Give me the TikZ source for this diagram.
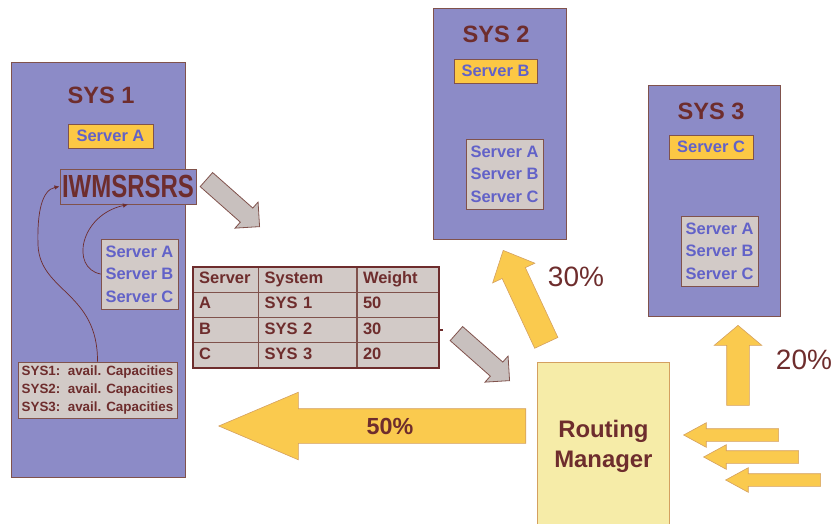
\documentclass[tikz,border=0pt]{standalone}
\usepackage{fontspec}
\setmainfont{Liberation Sans}
\usepackage{graphicx}
\usetikzlibrary{arrows.meta,matrix,positioning,shapes.arrows}
\definecolor{SYSfill}{RGB}{140,139,199}
\definecolor{SYSedge}{RGB}{128,82,76}
\definecolor{SRVyellow}{RGB}{252,200,68}
\definecolor{SRVblue}{RGB}{98,98,200}
\definecolor{BOXgrey}{RGB}{210,202,199}
\definecolor{TXTbrown}{RGB}{110,45,45}
\definecolor{ARRyellow}{RGB}{250,202,78}
\definecolor{ARRedge}{RGB}{212,160,96}
\definecolor{ARRgrey}{RGB}{200,192,190}
\definecolor{RMfill}{RGB}{246,236,168}

\begin{document}
\begin{tikzpicture}[
    x=1pt, y=-1pt,
    sysbox/.style={
      draw=SYSedge,
      fill=SYSfill,
      anchor=north west,
      inner sep=0pt,
      line width=0.8pt
    },
    title/.style={font=\fontsize{23.6}{26}\selectfont\bfseries, text=TXTbrown, inner sep=0pt},
    srvbox/.style={
      draw=SYSedge,
      fill=SRVyellow,
      text=SRVblue,
      font=\fontsize{16.5}{20}\selectfont\bfseries,
      minimum width=85pt,
      minimum height=24pt,
      inner sep=0pt,
      line width=0.8pt
    },
    listbox/.style={
      draw=SYSedge,
      fill=BOXgrey,
      text=SRVblue,
      font=\fontsize{16.5}{22.5}\selectfont\bfseries,
      align=left,
      minimum width=77pt,
      minimum height=70pt,
      inner sep=0pt,
      line width=0.8pt
    },
    cell/.style={
      draw=SYSedge,
      fill=BOXgrey,
      text=TXTbrown,
      font=\fontsize{16.5}{19}\selectfont\bfseries,
      align=left,
      inner xsep=6pt,
      inner ysep=0pt,
      outer sep=0pt,
      minimum height=24.75pt,
      text height=12pt,
      text depth=3.5pt
    },
    flow/.style={-{Latex[length=5pt,width=4.5pt]}, draw=TXTbrown, line width=0.7pt},
    yarrow/.style={single arrow, draw=ARRedge, fill=ARRyellow, inner xsep=0pt, anchor=tip, line width=0.6pt},
    inarrow/.style={minimum height=95pt, minimum width=24pt, inner ysep=6pt,
      single arrow head extend=6pt, single arrow tip angle=57, rotate=180},
    garrow/.style={
      single arrow,
      draw=SYSedge,
      fill=ARRgrey,
      inner xsep=0pt,
      inner ysep=9pt,
      anchor=tip,
      line width=0.8pt,
      minimum height=71pt,
      minimum width=34pt,
      single arrow head extend=8pt,
      single arrow tip angle=90,
      rotate=-41.5
    },
    pct/.style={text=TXTbrown, font=\fontsize{28}{30}\selectfont, inner sep=0pt}
  ]
    \useasboundingbox (0,0) rectangle (835,523);
    \clip (0,0) rectangle (835,523);

    % systems
    \node[sysbox, minimum width=174pt, minimum height=415pt] (sys1) at (11,62) {};
    \node[sysbox, minimum width=133pt, minimum height=231pt] (sys2) at (433,8) {};
    \node[sysbox, minimum width=132pt, minimum height=231pt] (sys3) at (648,85) {};

    \node[title] (t1) at (101,95) {SYS 1};
    \node[title] (t2) at (496,34) {SYS 2};
    \node[title] (t3) at (711,111) {SYS 3};

    \node[srvbox] (srv1) at (110.5,136) {Server A};
    \node[srvbox, minimum width=83pt] (srv2) at (495.5,71) {Server B};
    \node[srvbox, minimum width=84pt] (srv3) at (711,147) {Server C};

    \node[listbox] (list1) at (139.5,274) {Server A\\Server B\\Server C};
    \node[listbox] (list2) at (504.5,174) {Server A\\Server B\\Server C};
    \node[listbox] (list3) at (719.5,251) {Server A\\Server B\\Server C};

    \node[draw=SYSedge, fill=SYSfill, text=TXTbrown, line width=1pt,
      font=\fontsize{32}{34}\selectfont\bfseries,
      minimum width=136pt, minimum height=35pt, inner sep=0pt] (iwms)
      at (128,186.5) {\scalebox{0.75}[1]{IWMSRSRS}};

    \node[draw=SYSedge, fill=BOXgrey, text=TXTbrown, line width=0.8pt,
      font=\fontsize{13.4}{18}\selectfont\bfseries, align=left,
      minimum width=159pt, minimum height=56pt, inner sep=0pt] (cap)
      at (97.5,390) {SYS1:\ \ avail. Capacities\\SYS2:\ \ avail. Capacities\\SYS3:\ \ avail. Capacities};

    \draw[flow] (cap.north) .. controls (98,292) and (40,292) .. (38,245)
      .. controls (37,212) and (42,190) .. (iwms.west);
    \draw[flow] (list1.west) .. controls (70,268) and (80,215) .. (iwms.south);

    % weight table
    \matrix (tab) [matrix of nodes, anchor=north west, inner sep=0pt, outer sep=0pt,
      nodes={cell}, column sep=0pt, row sep=0pt,
      column 1/.style={nodes={text width=53pt}},
      column 2/.style={nodes={text width=86pt}},
      column 3/.style={nodes={text width=70pt}}] at (193,267) {
      Server & System & Weight \\
      A & SYS 1 & 50 \\
      B & SYS 2 & 30 \\
      C & SYS 3 & 20 \\
    };
    \draw[TXTbrown, line width=2pt] (tab.north west) rectangle (tab.south east);
    \draw[TXTbrown, line width=1.5pt] (tab-3-3.east) -- ++(4,0);

    \node[garrow] (g1) at (260,227) {};
    \node[garrow] (g2) at (510,381) {};

    % routing
    \node[draw=ARRedge, fill=RMfill, text=TXTbrown, line width=0.8pt,
      font=\fontsize{23.9}{30}\selectfont\bfseries, align=center,
      minimum width=132pt, minimum height=168pt, anchor=north west, inner sep=0pt] (rm)
      at (537,362) {Routing\\Manager};

    \node[yarrow, minimum height=307pt, minimum width=67pt, inner ysep=17pt,
      single arrow head extend=16.5pt, single arrow tip angle=46, rotate=180] (a50) at (218,426) {};
    \node[yarrow, minimum height=102pt, minimum width=46pt, inner ysep=12.5pt,
      single arrow head extend=10.5pt, single arrow tip angle=86, rotate=115] (a30) at (503,250) {};
    \node[yarrow, minimum height=80pt, minimum width=47pt, inner ysep=11pt,
      single arrow head extend=12.5pt, single arrow tip angle=100, rotate=90] (a20) at (738,325) {};
    \foreach \tx/\ty [count=\i] in {683/435, 703/457, 725/480}
      \node[yarrow, inarrow] (in\i) at (\tx,\ty) {};

    \node[text=TXTbrown, font=\fontsize{23.3}{26}\selectfont\bfseries, inner sep=0pt] (p50)
      at (390,426) {50\%};
    \node[pct] (p30) at (576,277) {30\%};
    \node[pct] (p20) at (804,360) {20\%};
  \end{tikzpicture}
\end{document}
